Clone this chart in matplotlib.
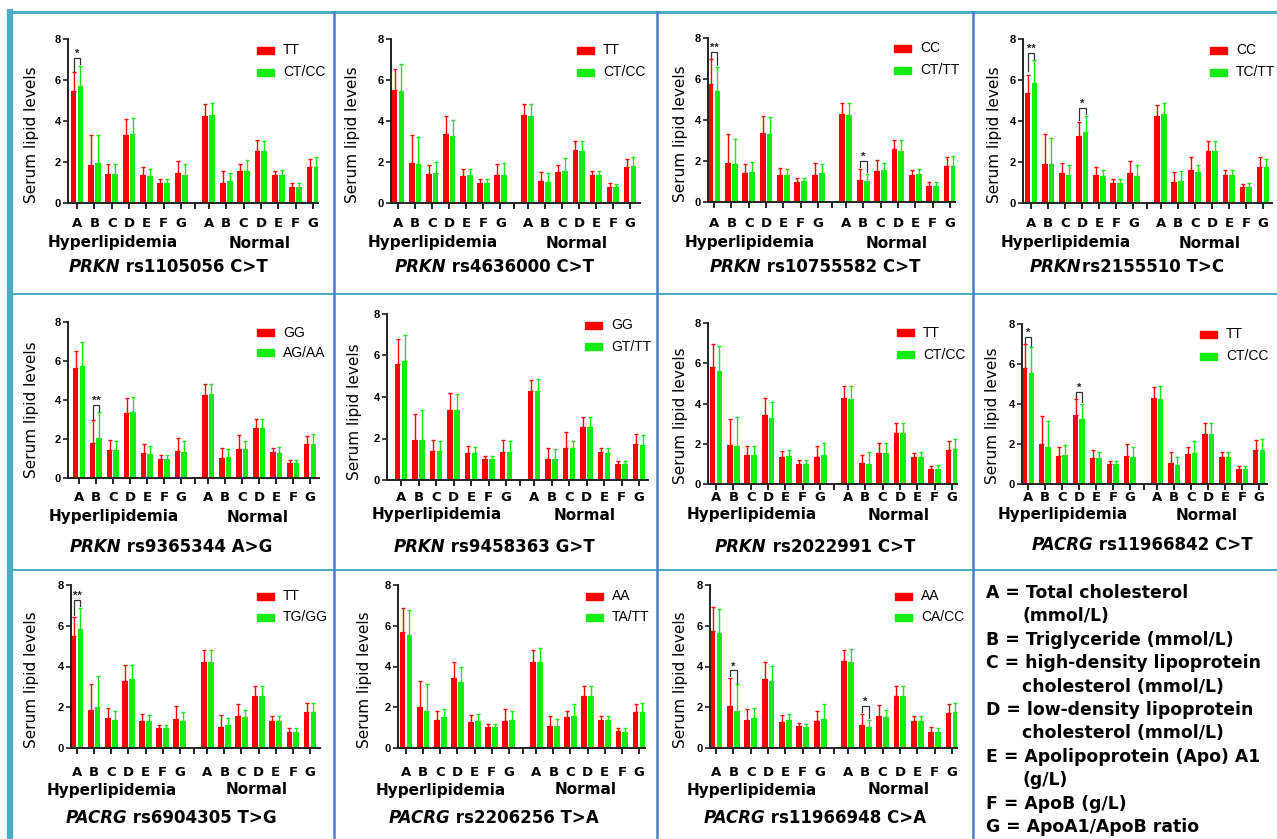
import matplotlib
matplotlib.use('Agg')
import matplotlib.pyplot as plt
from matplotlib.transforms import blended_transform_factory
from matplotlib.lines import Line2D
from matplotlib.patches import Rectangle
import numpy as np

W, H = 1277, 839
fig = plt.figure(figsize=(W / 100, H / 100), dpi=100)

CATS = ['A', 'B', 'C', 'D', 'E', 'F', 'G']
GROUPS = ['Hyperlipidemia', 'Normal']
YTICKS = [0, 2, 4, 6, 8]
RED = '#ff0000'
GREEN = '#14ec14'
SANS = ['Liberation Sans', 'DejaVu Sans']
WIDE = ['DejaVu Sans']

# ---------------- data (means and upper error-bar ends) ----------------
# Panel 1: PRKN rs1105056 C>T
p1_gene, p1_snp, p1_geno = 'PRKN', ' rs1105056 C>T', ['TT', 'CT/CC']
p1_hyp_1 = [5.44, 1.87, 1.43, 3.33, 1.38, 1.00, 1.44]
p1_hyp_1_up = [6.38, 3.30, 1.92, 4.10, 1.75, 1.17, 2.06]
p1_hyp_2 = [5.71, 1.96, 1.43, 3.36, 1.30, 1.00, 1.38]
p1_hyp_2_up = [6.70, 3.30, 1.90, 4.14, 1.65, 1.18, 1.90]
p1_nor_1 = [4.24, 1.00, 1.54, 2.53, 1.38, 0.80, 1.75]
p1_nor_1_up = [4.84, 1.56, 1.88, 3.05, 1.57, 0.96, 2.14]
p1_nor_2 = [4.30, 1.07, 1.54, 2.53, 1.38, 0.80, 1.78]
p1_nor_2_up = [4.87, 1.46, 2.09, 3.02, 1.60, 0.96, 2.25]
p1_sig = [(0, 0, '*')]

# Panel 2: PRKN rs4636000 C>T
p2_gene, p2_snp, p2_geno = 'PRKN', ' rs4636000 C>T', ['TT', 'CT/CC']
p2_hyp_1 = [5.53, 1.95, 1.41, 3.37, 1.30, 1.00, 1.38]
p2_hyp_1_up = [6.55, 3.33, 1.85, 4.23, 1.67, 1.17, 1.89]
p2_hyp_2 = [5.45, 1.90, 1.48, 3.28, 1.35, 0.99, 1.38]
p2_hyp_2_up = [6.80, 3.22, 1.98, 4.07, 1.67, 1.17, 1.95]
p2_nor_1 = [4.29, 1.06, 1.51, 2.57, 1.38, 0.80, 1.74]
p2_nor_1_up = [4.83, 1.53, 1.84, 3.04, 1.54, 0.96, 2.15]
p2_nor_2 = [4.26, 1.04, 1.56, 2.54, 1.38, 0.76, 1.79]
p2_nor_2_up = [4.83, 1.46, 2.18, 3.02, 1.54, 0.94, 2.24]
p2_sig = []

# Panel 3: PRKN rs10755582 C>T
p3_gene, p3_snp, p3_geno = 'PRKN', ' rs10755582 C>T', ['CC', 'CT/TT']
p3_hyp_1 = [5.77, 1.92, 1.43, 3.37, 1.33, 0.99, 1.33]
p3_hyp_1_up = [6.96, 3.30, 1.87, 4.18, 1.66, 1.17, 1.90]
p3_hyp_2 = [5.40, 1.87, 1.46, 3.33, 1.33, 1.01, 1.41]
p3_hyp_2_up = [6.59, 3.09, 1.93, 4.15, 1.63, 1.19, 1.84]
p3_nor_1 = [4.28, 1.09, 1.53, 2.57, 1.33, 0.80, 1.74]
p3_nor_1_up = [4.83, 1.63, 2.07, 3.04, 1.54, 0.96, 2.20]
p3_nor_2 = [4.26, 1.04, 1.54, 2.49, 1.37, 0.80, 1.76]
p3_nor_2_up = [4.85, 1.38, 1.90, 3.01, 1.63, 0.96, 2.24]
p3_sig = [(0, 0, '**'), (1, 1, '*')]

# Panel 4: PRKN rs2155510 T>C
p4_gene, p4_snp, p4_geno = 'PRKN', 'rs2155510 T>C', ['CC', 'TC/TT']
p4_hyp_1 = [5.37, 1.92, 1.46, 3.25, 1.38, 1.00, 1.46]
p4_hyp_1_up = [6.23, 3.37, 1.95, 3.95, 1.74, 1.19, 2.07]
p4_hyp_2 = [5.85, 1.92, 1.38, 3.45, 1.30, 1.00, 1.33]
p4_hyp_2_up = [6.96, 3.17, 1.87, 4.26, 1.63, 1.19, 1.87]
p4_nor_1 = [4.23, 1.04, 1.59, 2.52, 1.38, 0.76, 1.77]
p4_nor_1_up = [4.80, 1.53, 2.24, 3.04, 1.63, 0.93, 2.24]
p4_nor_2 = [4.34, 1.09, 1.50, 2.52, 1.38, 0.80, 1.74]
p4_nor_2_up = [4.88, 1.54, 1.84, 3.04, 1.59, 0.98, 2.15]
p4_sig = [(0, 0, '**'), (0, 3, '*')]

# Panel 5: PRKN rs9365344 A>G
p5_gene, p5_snp, p5_geno = 'PRKN', ' rs9365344 A>G', ['GG', 'AG/AA']
p5_hyp_1 = [5.63, 1.77, 1.42, 3.31, 1.30, 1.00, 1.39]
p5_hyp_1_up = [6.52, 2.97, 1.97, 4.12, 1.73, 1.17, 2.03]
p5_hyp_2 = [5.75, 2.03, 1.42, 3.40, 1.25, 1.00, 1.34]
p5_hyp_2_up = [6.97, 3.37, 1.89, 4.17, 1.63, 1.17, 1.89]
p5_nor_1 = [4.26, 1.05, 1.51, 2.54, 1.34, 0.77, 1.73]
p5_nor_1_up = [4.84, 1.56, 2.20, 3.02, 1.55, 0.94, 2.13]
p5_nor_2 = [4.31, 1.08, 1.51, 2.54, 1.29, 0.77, 1.73]
p5_nor_2_up = [4.82, 1.48, 1.92, 3.05, 1.60, 0.94, 2.25]
p5_sig = [(0, 1, '**')]

# Panel 6: PRKN rs9458363 G>T
p6_gene, p6_snp, p6_geno = 'PRKN', ' rs9458363 G>T', ['GG', 'GT/TT']
p6_hyp_1 = [5.60, 1.93, 1.42, 3.38, 1.29, 1.00, 1.37]
p6_hyp_1_up = [6.81, 3.19, 1.92, 4.19, 1.64, 1.18, 1.95]
p6_hyp_2 = [5.72, 1.93, 1.42, 3.35, 1.29, 1.00, 1.37]
p6_hyp_2_up = [6.97, 3.37, 1.88, 4.15, 1.61, 1.18, 1.90]
p6_nor_1 = [4.27, 1.03, 1.56, 2.54, 1.34, 0.77, 1.74]
p6_nor_1_up = [4.81, 1.56, 2.30, 3.03, 1.56, 0.93, 2.22]
p6_nor_2 = [4.27, 1.03, 1.53, 2.54, 1.32, 0.77, 1.71]
p6_nor_2_up = [4.86, 1.47, 1.88, 3.06, 1.56, 0.93, 2.17]
p6_sig = []

# Panel 7: PRKN rs2022991 C>T
p7_gene, p7_snp, p7_geno = 'PRKN', ' rs2022991 C>T', ['TT', 'CT/CC']
p7_hyp_1 = [5.81, 1.95, 1.42, 3.43, 1.32, 0.99, 1.34]
p7_hyp_1_up = [6.94, 3.23, 1.91, 4.26, 1.62, 1.17, 1.90]
p7_hyp_2 = [5.62, 1.91, 1.42, 3.30, 1.37, 0.99, 1.45]
p7_hyp_2_up = [6.86, 3.31, 1.91, 4.09, 1.70, 1.17, 2.03]
p7_nor_1 = [4.26, 1.04, 1.53, 2.52, 1.32, 0.76, 1.67]
p7_nor_1_up = [4.87, 1.45, 2.06, 3.02, 1.53, 0.91, 2.15]
p7_nor_2 = [4.22, 1.01, 1.53, 2.52, 1.34, 0.76, 1.73]
p7_nor_2_up = [4.87, 1.58, 2.03, 3.02, 1.58, 0.92, 2.24]
p7_sig = []

# Panel 8: PACRG rs11966842 C>T
p8_gene, p8_snp, p8_geno = 'PACRG', ' rs11966842 C>T', ['TT', 'CT/CC']
p8_hyp_1 = [5.79, 2.00, 1.38, 3.43, 1.30, 1.00, 1.38]
p8_hyp_1_up = [6.99, 3.38, 1.83, 4.24, 1.68, 1.16, 2.00]
p8_hyp_2 = [5.57, 1.85, 1.46, 3.24, 1.30, 1.00, 1.33]
p8_hyp_2_up = [6.84, 3.13, 1.96, 4.01, 1.60, 1.16, 1.85]
p8_nor_1 = [4.29, 1.05, 1.50, 2.51, 1.35, 0.77, 1.71]
p8_nor_1_up = [4.84, 1.58, 1.85, 3.04, 1.58, 0.92, 2.21]
p8_nor_2 = [4.24, 0.97, 1.55, 2.51, 1.35, 0.77, 1.71]
p8_nor_2_up = [4.88, 1.35, 2.13, 3.04, 1.58, 0.92, 2.26]
p8_sig = [(0, 0, '*'), (0, 3, '*')]

# Panel 9: PACRG rs6904305 T>G
p9_gene, p9_snp, p9_geno = 'PACRG', ' rs6904305 T>G', ['TT', 'TG/GG']
p9_hyp_1 = [5.50, 1.88, 1.47, 3.31, 1.34, 0.98, 1.42]
p9_hyp_1_up = [6.45, 3.15, 1.96, 4.08, 1.68, 1.14, 2.04]
p9_hyp_2 = [5.84, 1.99, 1.39, 3.38, 1.31, 0.98, 1.34]
p9_hyp_2_up = [6.89, 3.51, 1.80, 4.08, 1.63, 1.14, 1.76]
p9_nor_1 = [4.21, 1.03, 1.55, 2.56, 1.34, 0.80, 1.75]
p9_nor_1_up = [4.82, 1.60, 2.16, 3.02, 1.55, 0.98, 2.20]
p9_nor_2 = [4.24, 1.11, 1.52, 2.56, 1.34, 0.80, 1.75]
p9_nor_2_up = [4.82, 1.45, 1.88, 3.02, 1.55, 0.96, 2.20]
p9_sig = [(0, 0, '**')]

# Panel 10: PACRG rs2206256 T>A
p10_gene, p10_snp, p10_geno = 'PACRG', ' rs2206256 T>A', ['AA', 'TA/TT']
p10_hyp_1 = [5.71, 2.01, 1.39, 3.43, 1.27, 1.01, 1.34]
p10_hyp_1_up = [6.89, 3.31, 1.84, 4.21, 1.60, 1.18, 1.93]
p10_hyp_2 = [5.55, 1.80, 1.50, 3.22, 1.34, 1.03, 1.39]
p10_hyp_2_up = [6.78, 3.15, 1.91, 3.97, 1.67, 1.18, 1.84]
p10_nor_1 = [4.24, 1.08, 1.52, 2.56, 1.36, 0.82, 1.75]
p10_nor_1_up = [4.82, 1.58, 1.84, 3.04, 1.57, 0.98, 2.17]
p10_nor_2 = [4.21, 1.08, 1.55, 2.53, 1.36, 0.80, 1.75]
p10_nor_2_up = [4.90, 1.42, 2.16, 3.04, 1.57, 0.98, 2.20]
p10_sig = []

# Panel 11: PACRG rs11966948 C>A
p11_gene, p11_snp, p11_geno = 'PACRG', ' rs11966948 C>A', ['AA', 'CA/CC']
p11_hyp_1 = [5.76, 2.07, 1.39, 3.40, 1.27, 1.06, 1.34]
p11_hyp_1_up = [6.94, 3.43, 1.91, 4.24, 1.63, 1.22, 1.83]
p11_hyp_2 = [5.63, 1.84, 1.47, 3.31, 1.36, 1.03, 1.42]
p11_hyp_2_up = [6.81, 3.13, 1.96, 4.03, 1.67, 1.18, 2.16]
p11_nor_1 = [4.29, 1.11, 1.55, 2.56, 1.34, 0.80, 1.71]
p11_nor_1_up = [4.82, 1.68, 2.12, 3.02, 1.58, 1.01, 2.17]
p11_nor_2 = [4.21, 1.01, 1.52, 2.53, 1.34, 0.80, 1.75]
p11_nor_2_up = [4.85, 1.39, 1.88, 3.05, 1.58, 0.98, 2.20]
p11_sig = [(0, 1, '*'), (1, 1, '*')]

KEY_LINES = [
    ('A = Total cholesterol', 0),
    ('(mmol/L)', 1),
    ('B = Triglyceride (mmol/L)', 0),
    ('C = high-density lipoprotein', 0),
    ('cholesterol (mmol/L)', 1),
    ('D = low-density lipoprotein', 0),
    ('cholesterol (mmol/L)', 1),
    ('E = Apolipoprotein (Apo) A1', 0),
    ('(g/L)', 1),
    ('F = ApoB (g/L)', 0),
    ('G = ApoA1/ApoB ratio', 0),
]

PANELS = [
    (p1_gene, p1_snp, p1_geno, p1_hyp_1, p1_hyp_1_up, p1_hyp_2, p1_hyp_2_up, p1_nor_1, p1_nor_1_up, p1_nor_2, p1_nor_2_up, p1_sig),
    (p2_gene, p2_snp, p2_geno, p2_hyp_1, p2_hyp_1_up, p2_hyp_2, p2_hyp_2_up, p2_nor_1, p2_nor_1_up, p2_nor_2, p2_nor_2_up, p2_sig),
    (p3_gene, p3_snp, p3_geno, p3_hyp_1, p3_hyp_1_up, p3_hyp_2, p3_hyp_2_up, p3_nor_1, p3_nor_1_up, p3_nor_2, p3_nor_2_up, p3_sig),
    (p4_gene, p4_snp, p4_geno, p4_hyp_1, p4_hyp_1_up, p4_hyp_2, p4_hyp_2_up, p4_nor_1, p4_nor_1_up, p4_nor_2, p4_nor_2_up, p4_sig),
    (p5_gene, p5_snp, p5_geno, p5_hyp_1, p5_hyp_1_up, p5_hyp_2, p5_hyp_2_up, p5_nor_1, p5_nor_1_up, p5_nor_2, p5_nor_2_up, p5_sig),
    (p6_gene, p6_snp, p6_geno, p6_hyp_1, p6_hyp_1_up, p6_hyp_2, p6_hyp_2_up, p6_nor_1, p6_nor_1_up, p6_nor_2, p6_nor_2_up, p6_sig),
    (p7_gene, p7_snp, p7_geno, p7_hyp_1, p7_hyp_1_up, p7_hyp_2, p7_hyp_2_up, p7_nor_1, p7_nor_1_up, p7_nor_2, p7_nor_2_up, p7_sig),
    (p8_gene, p8_snp, p8_geno, p8_hyp_1, p8_hyp_1_up, p8_hyp_2, p8_hyp_2_up, p8_nor_1, p8_nor_1_up, p8_nor_2, p8_nor_2_up, p8_sig),
    (p9_gene, p9_snp, p9_geno, p9_hyp_1, p9_hyp_1_up, p9_hyp_2, p9_hyp_2_up, p9_nor_1, p9_nor_1_up, p9_nor_2, p9_nor_2_up, p9_sig),
    (p10_gene, p10_snp, p10_geno, p10_hyp_1, p10_hyp_1_up, p10_hyp_2, p10_hyp_2_up, p10_nor_1, p10_nor_1_up, p10_nor_2, p10_nor_2_up, p10_sig),
    (p11_gene, p11_snp, p11_geno, p11_hyp_1, p11_hyp_1_up, p11_hyp_2, p11_hyp_2_up, p11_nor_1, p11_nor_1_up, p11_nor_2, p11_nor_2_up, p11_sig),
]

# ---------------- layout (pixels) ----------------
LAYOUT = [
    ((68, 39, 318, 203), 77, 313, 223, 243, (168, 267), 36, (257, 50, 72)),
    ((391, 39, 640, 203), 398, 630, 223, 243, (494, 267), 38, (577, 50, 72)),
    ((708, 38, 955, 202), 714, 950, 223, 243, (815, 267), 28, (894, 48, 70)),
    ((1023, 39, 1272, 203), 1031, 1263, 223, 243, (1127, 267), 28, (1210, 50, 72)),
    ((68, 322, 319, 478), 79, 310, 497, 517, (171, 547), 36, (257, 333, 353)),
    ((387, 314, 648, 480), 401, 639, 497, 515, (494, 547), 32, (585, 325, 347)),
    ((708, 323, 957, 484), 716, 952, 497, 515, (815, 547), 28, (897, 333, 355)),
    ((1022, 324, 1267, 484), 1028, 1259, 497, 515, (1142, 545), 29, (1200, 334, 356)),
    ((71, 585, 320, 748), 77, 310, 772, 790, (171, 818), 39, (257, 596, 617)),
    ((398, 585, 645, 748), 406, 639, 772, 790, (494, 818), 33, (586, 596, 617)),
    ((710, 585, 957, 748), 716, 952, 772, 790, (815, 818), 30, (895, 596, 617)),
]

NOR_OFF = 7.6
SEP = 6.8
BW = 0.34
OFF = 0.2


def fx(px):
    return px / W


def fy(py):
    return 1 - py / H


renderer = fig.canvas.get_renderer()

for pdata, lay in zip(PANELS, LAYOUT):
    (gene, snp, geno, h1, h1u, h2, h2u, n1, n1u, n2, n2u, sig) = pdata
    (box, xa, xg, xl_y, grp_y, (tx, ty), ylo, (lx, ly1, ly2)) = lay
    l, t, r, b = box
    ax = fig.add_axes([fx(l), fy(b), fx(r) - fx(l), fy(t) - fy(b)])
    scale = (xg - xa) / (6 + NOR_OFF)
    ax.set_xlim(-(xa - l) / scale, (r - xa) / scale)
    ax.set_ylim(0, 8)
    xh = np.arange(7)
    xn = np.arange(7) + NOR_OFF
    series = [
        (xh - OFF, h1, h1u, RED), (xh + OFF, h2, h2u, GREEN),
        (xn - OFF, n1, n1u, RED), (xn + OFF, n2, n2u, GREEN),
    ]
    for xs, m, up, col in series:
        m = np.array(m)
        up = np.array(up)
        ax.bar(xs, m, width=BW, color=col, edgecolor='none', zorder=2)
        ax.errorbar(xs, m, yerr=[np.zeros_like(m), up - m], fmt='none',
                    ecolor=col, elinewidth=1.0, capsize=1.3, capthick=1.0, zorder=1)
    for grp, idx, star in sig:
        if grp == 0:
            c = xh[idx]; u1 = h1u[idx]; u2 = h2u[idx]
        else:
            c = xn[idx]; u1 = n1u[idx]; u2 = n2u[idx]
        top = max(u1, u2) + 0.38
        e1 = max(u1 + 0.08, top - 0.9)
        e2 = max(u2 + 0.08, top - 0.9)
        ax.plot([c - OFF, c - OFF, c + OFF, c + OFF], [e1, top, top, e2],
                color='#333333', lw=0.9, zorder=3, solid_joinstyle='miter')
        ax.text(c, top - 0.05, star, ha='center', va='bottom', fontsize=8,
                fontweight='bold', family=SANS, color='#222222')
    for s in ['top', 'right']:
        ax.spines[s].set_visible(False)
    for s in ['left', 'bottom']:
        ax.spines[s].set_linewidth(1.4)
        ax.spines[s].set_color('#222222')
    ax.set_facecolor('none')
    ticks = list(xh) + [SEP] + list(xn)
    ax.set_xticks(ticks)
    label_pad = (xl_y - b - 5 - 7) / 1.389
    ax.set_xticklabels(CATS + [''] + CATS, fontsize=9.5, fontweight='bold', family=WIDE)
    ax.tick_params(axis='x', length=4, width=1.4, pad=max(label_pad, 0.5), color='#222222')
    ax.set_yticks(YTICKS)
    ax.set_yticklabels([str(v) for v in YTICKS], fontsize=8, fontweight='bold', family=SANS)
    ax.tick_params(axis='y', length=3.5, width=1.2, pad=1.5, color='#222222')
    fig.text(fx(l - ylo), fy(b - 68), 'Serum lipid levels', rotation=90, ha='center',
             va='center', fontsize=11, family=WIDE)
    tr = blended_transform_factory(ax.transData, fig.transFigure)
    ax.text(2.05, fy(grp_y), GROUPS[0], transform=tr, ha='center', va='center',
            fontsize=11, fontweight='bold', family=WIDE, clip_on=False)
    ax.text(3.0 + NOR_OFF - 0.1, fy(grp_y), GROUPS[1], transform=tr, ha='center',
            va='center', fontsize=11, fontweight='bold', family=WIDE, clip_on=False)
    for yy, lab, col in [(ly1, geno[0], RED), (ly2, geno[1], GREEN)]:
        fig.patches.append(Rectangle((fx(lx), fy(yy + 3.5)), 17 / W, 7 / H,
                                     transform=fig.transFigure, color=col))
        fig.text(fx(lx + 26), fy(yy), lab, ha='left', va='center', fontsize=10, family=SANS)
    t1 = fig.text(0, 0, gene, fontsize=12, fontweight='bold', style='italic', family=WIDE)
    t2 = fig.text(0, 0, snp, fontsize=12, fontweight='bold', family=WIDE)
    w1 = t1.get_window_extent(renderer).width
    w2 = t2.get_window_extent(renderer).width
    x0 = tx - (w1 + w2) / 2
    t1.set_position((fx(x0), fy(ty)))
    t1.set_va('center')
    t2.set_position((fx(x0 + w1), fy(ty)))
    t2.set_va('center')

# key panel
y = 593
for txt, indent in KEY_LINES:
    fig.text(fx(986 + (36 if indent else 0)), fy(y), txt, ha='left', va='center',
             fontsize=12.4, fontweight='bold', family=WIDE)
    y += 23.4

# frame lines
LIGHT = '#4bacc6'
DARK = '#4a7cc9'
fig.add_artist(Line2D([fx(10), fx(10)], [fy(12), fy(839)], color=LIGHT, lw=4.5))
fig.add_artist(Line2D([fx(8), fx(1277)], [fy(12), fy(12)], color=LIGHT, lw=2.2))
for yy in [294, 570]:
    fig.add_artist(Line2D([fx(12), fx(1277)], [fy(yy), fy(yy)], color=LIGHT, lw=1.5))
for xx in [334, 657, 973]:
    fig.add_artist(Line2D([fx(xx), fx(xx)], [fy(12), fy(839)], color=DARK, lw=1.8))

fig.savefig('out.png', dpi=100)
